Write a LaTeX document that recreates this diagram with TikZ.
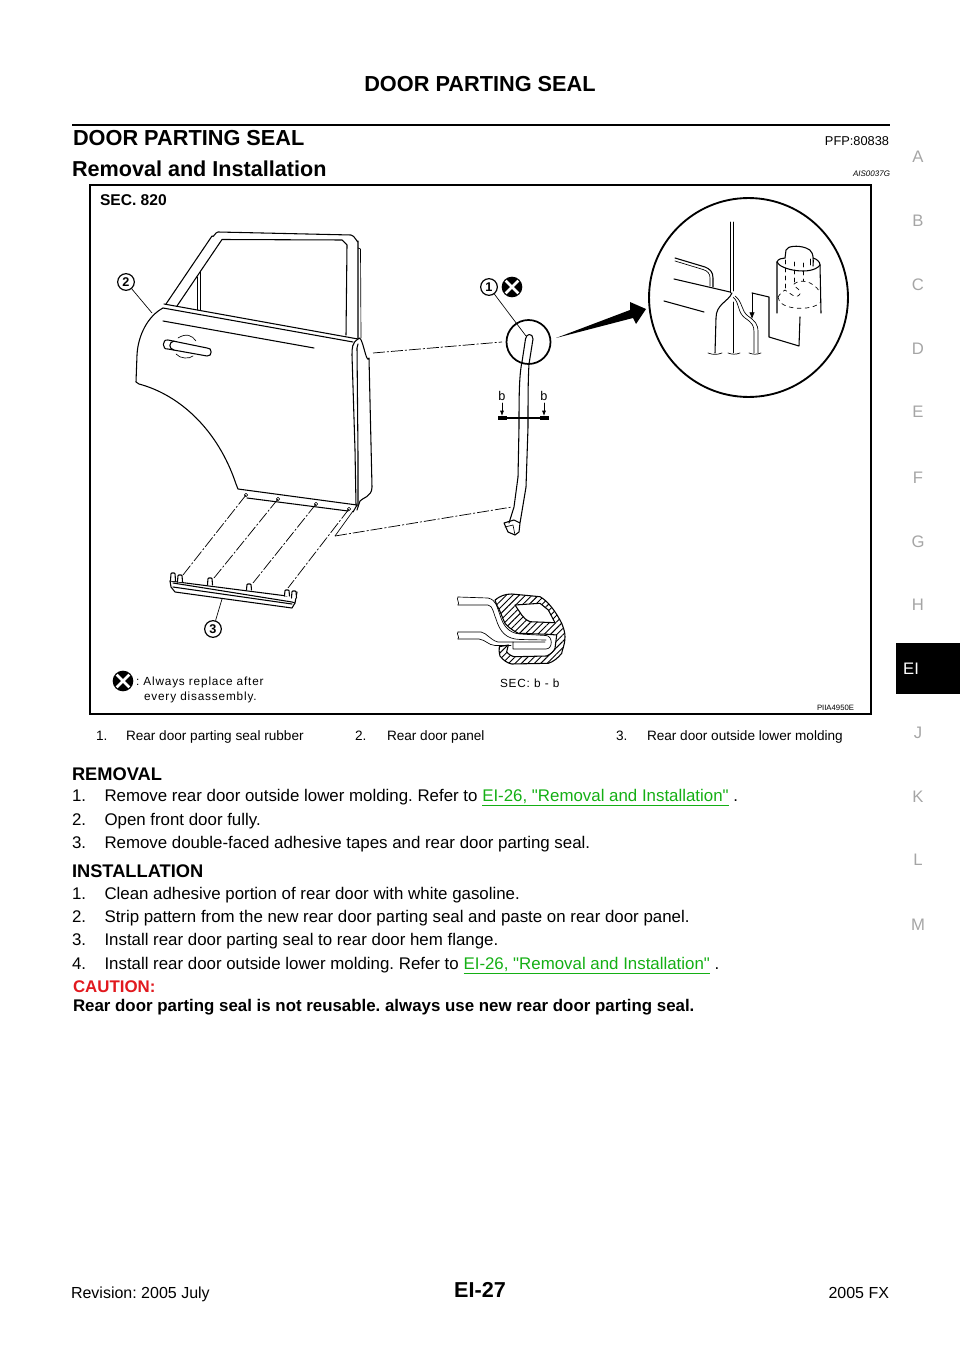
\documentclass[tikz,border=0pt]{standalone}
\usepackage{fontspec}
\setmainfont{Liberation Sans}
\newfontfamily\spaced[LetterSpace=7]{Liberation Sans}
\newfontfamily\plainfam{Liberation Sans}
\newcommand\qt{{\plainfam "}}
\usetikzlibrary{patterns.meta,arrows.meta}
\definecolor{linkgreen}{RGB}{20,175,20}
\definecolor{cautionred}{RGB}{225,25,30}
\definecolor{tabgray}{RGB}{165,165,165}
\tikzset{
  txt/.style={anchor=base west,inner sep=0pt,outer sep=0pt},
  txtr/.style={anchor=base east,inner sep=0pt,outer sep=0pt},
  txtc/.style={anchor=base,inner sep=0pt,outer sep=0pt},
  bodytext/.style={txt,font=\fontsize{12.65}{15}\selectfont},
  headb/.style={txt,font=\fontsize{13.7}{15}\bfseries\selectfont},
  captext/.style={txt,font=\fontsize{10.2}{12}\selectfont},
  tabletter/.style={anchor=center,inner sep=0pt,text=tabgray,font=\fontsize{12.5}{14}\selectfont},
  lab/.style={txt,font=\spaced\fontsize{8.85}{11}\selectfont},
  ln/.style={line width=.8pt,line join=round,line cap=round},
  thinln/.style={line width=.5pt,line join=round,line cap=round},
  dd/.style={line width=.55pt,dash pattern=on 9pt off 1.5pt on 1.5pt off 1.5pt},
  numc/.style={draw,circle,line width=.9pt,inner sep=0pt,minimum size=12.5pt,font=\fontsize{9.5}{10}\bfseries\selectfont},
  xicon/.style={circle,fill=black,inner sep=0pt,minimum size=15.5pt,outer sep=-1pt},
  xcross/.style={white,line width=2.1pt},
  hatch/.style={pattern={Lines[angle=45,distance=3.4pt,line width=.7pt]},draw,line width=.8pt,line join=round},
  whitefill/.style={fill=white,draw,line width=.8pt,line join=round},
}
\frenchspacing
\begin{document}
\begin{tikzpicture}[x=.75pt,y=-.75pt]
\useasboundingbox (0,0) rectangle (960,1358);
% page furniture
\node[txtc,font=\fontsize{16.3}{18}\bfseries\selectfont] (hdr) at (480,92) {DOOR PARTING SEAL};
\coordinate (ruleL) at (72,125); \coordinate (ruleR) at (890,125);
\draw[line width=2.2pt] (ruleL) -- (ruleR);
\node[txt,font=\fontsize{16.3}{18}\bfseries\selectfont] (ttl) at (73,146) {DOOR PARTING SEAL};
\node[txtr,font=\fontsize{9.6}{11}\selectfont] (pfp) at (889,146) {PFP:80838};
\node[txt,font=\fontsize{16.2}{18}\bfseries\selectfont] (sub) at (72,177) {Removal and Installation};
\node[txtr,font=\fontsize{6}{8}\itshape\selectfont] (ais) at (890,177) {AIS0037G};
% side tabs
\foreach \n/\l/\yy in {ta/A/157,tb/B/221,tc/C/285,td/D/349,te/E/412,tf/F/478,tg/G/542,th/H/605,tj/J/733,tk/K/797,tl/L/860,tm/M/925}
  \node[tabletter] (\n) at (918,\yy) {\l};
\fill (896,643) rectangle (960,694);
\node[anchor=center,inner sep=0pt,text=white,font=\fontsize{12.5}{14}\selectfont] (tei) at (911,669) {EI};
% figure frame
\draw[line width=1.4pt] (90,185) rectangle (871,714);
\node[txt,font=\fontsize{11.7}{13}\bfseries\selectfont] (sec) at (100,206) {SEC. 820};
\node[txtr,font=\fontsize{5.8}{7}\selectfont] (pii) at (854,710) {PIIA4950E};
% door: window frame
\draw[ln] (166,304) -- (212,236) to[out=-55,in=180] (218,232) -- (351,235) to[out=0,in=-90] (358,241) -- (358,338);
\draw[ln] (177,306) -- (222,239.5) -- (342,240) -- (347,245) -- (346,335);
\draw[thinln] (358,248) -- (360.5,249) -- (361,338);
\draw[thinln] (197,277) -- (197,310) (200,271) -- (200,310);
% door: belt and body
\draw[ln] (164,304) -- (358,339);
\draw[ln] (163,308) -- (353,342);
\draw[ln] (163,308) .. controls (148,316) and (138,335) .. (137,355) -- (136,382) -- (139,384)
   .. controls (180,395) and (218,430) .. (236,484) -- (238,489) -- (357,505);
\draw[ln] (247,498) -- (348,511);
\draw[ln] (163,321) -- (314,348);
% door: rear edge
\draw[ln] (358,339) to[out=60,in=-110] (369,358) -- (372,487) .. controls (372,497) and (362,498) .. (360,501) -- (357,510);
\draw[ln] (358,339) .. controls (352,343) and (352,348) .. (352,355) -- (355,450) -- (356,505);
\draw[ln] (358,344) -- (357,348) -- (358,455) -- (358,506);
\draw[ln] (357,505) -- (353,512);
% door: handle
\draw[ln] (168,340) -- (207,348) to[out=10,in=-10,looseness=1.8] (207,356) -- (168,349) to[out=190,in=170,looseness=1.8] (168,340);
\draw[ln] (174,341) to[out=190,in=170,looseness=1.6] (174,350);
\draw[thinln] (178,338) .. controls (186,333) and (192,335) .. (196,341);
\draw[thinln] (176,354) .. controls (180,359) and (190,359) .. (193,356);
% molding
\draw[ln] (170,581) -- (287,596);
\draw[ln] (170,581) -- (171,587) -- (175,592) -- (292,608) -- (295,603) -- (297,592);
\draw[ln] (173,583) -- (292,602) -- (295,603);
\draw[ln] (173,587) -- (292,604);
\foreach \cx/\ct/\cb in {173/573/581,180/575/582,210/578/585,249/584/590,287/590/596,294/591/598}{
  \draw[ln,fill=white,rounded corners=.6pt] (\cx-2.5,\cb) -- (\cx-2,\ct) -- (\cx+2,\ct) -- (\cx+2.5,\cb);
}
% mount holes and dash-dot
\coordinate (h1) at (246,495); \coordinate (h2) at (278,499); \coordinate (h3) at (316,504); \coordinate (h4) at (349,509);
\coordinate (m1) at (183,575); \coordinate (m2) at (214,578); \coordinate (m3) at (253,583); \coordinate (m4) at (288,588);
\foreach \h in {h1,h2,h3,h4} \draw[thinln,fill=white] (\h) circle[radius=1.3pt];
\draw[dd] (h1) -- (m1); \draw[dd] (h2) -- (m2); \draw[dd] (h3) -- (m3); \draw[dd] (h4) -- (m4);
\coordinate (k1) at (353,511); \coordinate (k2) at (335,536); \coordinate (k3) at (512,507);
\coordinate (k4) at (373,353); \coordinate (k5) at (502,342);
\draw[thinln] (k1) -- (k2); \draw[dd] (k2) -- (k3); \draw[dd] (k4) -- (k5);
% callouts
\node[numc] (n2) at (126,282) {2};
\coordinate (p2) at (152,313); \draw[thinln] (n2) -- (p2);
\node[numc] (n3) at (213,629) {3};
\coordinate (p3) at (222,599); \draw[thinln] (n3) -- (p3);
\node[numc] (n1) at (489,287) {1};
\coordinate (p1) at (526,336); \draw[thinln] (n1) -- (p1);
\node[xicon] (xa) at (512,287) {};
\draw[xcross] (xa.45) -- (xa.225) (xa.135) -- (xa.315);
\node[xicon] (xb) at (123,681) {};
\draw[xcross] (xb.45) -- (xb.225) (xb.135) -- (xb.315);
\node[lab] (note1) at (136,685) {: Always replace after};
\node[lab] (note2) at (144,700) {every disassembly.};
% seal rubber
\draw[line width=1.3pt] (528.5,342) circle[radius=16.5pt];
\draw[ln] (522,362) -- (525.5,339) .. controls (526,333) and (533,333) .. (533,339) -- (529,364);
\draw[ln] (522,362) .. controls (519,375) and (519,400) .. (519,427) -- (518,477) -- (514,507) -- (509,523);
\draw[ln] (529,364) .. controls (528,380) and (528,400) .. (528,427) -- (526,487) -- (520,523) -- (519,532) -- (515,535) -- (508,532) -- (504,523) -- (514,520) -- (520,523);
\draw[thinln] (505,527) -- (513,525) -- (515,535);
% section mark
\node[txtc,font=\fontsize{9.5}{11}\selectfont] (bl) at (502,400) {b};
\node[txtc,font=\fontsize{9.5}{11}\selectfont] (br) at (544,400) {b};
\coordinate (bl1) at (502,403); \coordinate (bl2) at (502,416); \coordinate (br1) at (544,403); \coordinate (br2) at (544,416);
\draw[thinln,-{Latex[length=4pt,width=3pt]}] (bl1) -- (bl2);
\draw[thinln,-{Latex[length=4pt,width=3pt]}] (br1) -- (br2);
\fill (498,416) rectangle (507,420); \fill (540,416) rectangle (549,420);
\draw[ln] (507,418) -- (540,418);
% big arrow
\fill (556,338) -- (630,310) -- (630,302) -- (646,309) -- (636,324) -- (633,318) -- cycle;
% detail circle
\draw[line width=1.4pt] (748.5,297.5) circle[radius=74.6pt];
\draw[thinln] (730,222) -- (730,292) (733,222) -- (733,291) (733,302) -- (733,353);
\draw[ln] (675,258) -- (705,267) .. controls (710,269) and (713,272) .. (713,278) -- (713,287);
\draw[thinln] (675,261) -- (703,269.5) .. controls (708,271) and (710,274) .. (710,278) -- (710,286);
\draw[ln] (674,279) -- (730,292) -- (731,293);
\draw[ln] (732,293) .. controls (728,302) and (716,304) .. (716,318) -- (715,353);
\draw[ln] (664,301) -- (704,312);
\draw[thinln] (733,297) .. controls (740,303) and (737,312) .. (745,318) .. controls (752,323) and (754,325) .. (754,332) -- (754,353);
\draw[thinln] (735,296) .. controls (743,302) and (741,311) .. (748,316) .. controls (755,321) and (758,324) .. (758,332) -- (758,353);
\draw[thinln,-{Latex[length=5pt,width=4pt]}] (752,293) -- (752,319);
\draw[ln] (752,293) -- (769,297) -- (769,337) -- (799,346) -- (800,317);
\foreach \xa/\xb in {708/722,728/740,749/761}
  \draw[thinln] (\xa,353) to[out=-20,in=200] (\xb,353);
% detail: cylinder
\draw[ln] (777,262) -- (777,313) (820,265) -- (821,313);
\draw[ln] (777,262) .. controls (780,270) and (812,276) .. (820,265);
\draw[ln] (777,262) .. controls (778,259) and (782,258) .. (785,258);
\draw[ln] (813,258) .. controls (817,259) and (820,262) .. (820,265);
\draw[ln] (785,258) -- (786,250) .. controls (787,246) and (798,245) .. (806,248) .. controls (812,250) and (814,254) .. (813,266);
\draw[thinln] (810,259) -- (810,265);
\draw[thinln,dashed] (785,260) -- (785,290) (794,262) -- (794,284) (803,263) -- (803,281);
\draw[thinln,dashed] (778,297) .. controls (782,291) and (784,291) .. (785,290) .. controls (790,293) and (796,300) .. (800,294) .. controls (800,286) and (792,288) .. (794,284) .. controls (800,279) and (812,280) .. (820,292);
\draw[thinln,dashed] (778,297) .. controls (778,310) and (812,312) .. (821,302);
% section b-b: seal
\draw[hatch] (495,600) .. controls (500,596) and (505,594) .. (511.7,594) -- (540,596.7) .. controls (548,601) and (556,612) .. (561.7,623.3) .. controls (564,629) and (565,633) .. (565,636.7) .. controls (565,645) and (562,650) .. (561.7,653.3) .. controls (558,658) and (553,662) .. (548.3,663.3) -- (511.7,664) .. controls (507,663) and (503,660) .. (500,656) .. controls (499,652) and (499,650) .. (499.3,646.7) -- (508.3,645) -- (506.7,651.7) .. controls (508,654) and (512,656.7) .. (515,656.7) -- (546.7,656) .. controls (551,654) and (554,651) .. (555,648.3) -- (556.7,635) -- (548.3,634.3) -- (518.3,633.3) .. controls (512,630) and (508,627) .. (505,623.3) .. controls (502,617) and (500,610) .. (496.7,605) -- cycle;
\draw[whitefill] (515,605) -- (540,603.3) -- (548.3,610) -- (555,622.7) -- (530,621.7) .. controls (526,620) and (524,618) .. (521.7,615) -- cycle;
% section b-b: panels
\draw[thinln] (458,597) -- (488,598) .. controls (497,600) and (497,608) .. (500,615) .. controls (503,625) and (508,633) .. (520,634) -- (546,635.5) .. controls (553,636) and (553,649) .. (546,649) -- (513,649) -- (513,642) -- (545,642);
\draw[thinln] (458,605) -- (488,605) .. controls (493,606) and (493,612) .. (496,619) .. controls (500,632) and (506,639) .. (520,639.5) -- (546,640);
\draw[thinln] (458,632) -- (481,632) .. controls (487,633) and (490,640) .. (498,642) -- (513,642);
\draw[thinln] (458,639) -- (479,639) .. controls (486,640) and (488,645) .. (495,645.5) -- (511,645.5);
\draw[thinln] (458,597) .. controls (456,599) and (460,603) .. (458,605);
\draw[thinln] (458,632) .. controls (456,634) and (460,637) .. (458,639);
\node[lab] (secbb) at (500,687) {SEC: b - b};
% captions
\node[captext] (c1a) at (96,740) {1.};
\node[captext] (c1b) at (126,740) {Rear door parting seal rubber};
\node[captext] (c2a) at (355,740) {2.};
\node[captext] (c2b) at (387,740) {Rear door panel};
\node[captext] (c3a) at (616,740) {3.};
\node[captext] (c3b) at (647,740) {Rear door outside lower molding};
% body
\node[headb] (rem) at (72,780) {REMOVAL};
\node[bodytext] (r1a) at (72,801) {1.};
\node[bodytext] (r1b) at (104.5,801) {Remove rear door outside lower molding. Refer to \textcolor{linkgreen}{\underline{EI-26, \qt Removal and Installation\qt}} .};
\node[bodytext] (r2a) at (72,825) {2.};
\node[bodytext] (r2b) at (104.5,825) {Open front door fully.};
\node[bodytext] (r3a) at (72,848) {3.};
\node[bodytext] (r3b) at (104.5,848) {Remove double-faced adhesive tapes and rear door parting seal.};
\node[headb] (ins) at (72,877) {INSTALLATION};
\node[bodytext] (i1a) at (72,899) {1.};
\node[bodytext] (i1b) at (104.5,899) {Clean adhesive portion of rear door with white gasoline.};
\node[bodytext] (i2a) at (72,922) {2.};
\node[bodytext] (i2b) at (104.5,922) {Strip pattern from the new rear door parting seal and paste on rear door panel.};
\node[bodytext] (i3a) at (72,945) {3.};
\node[bodytext] (i3b) at (104.5,945) {Install rear door parting seal to rear door hem flange.};
\node[bodytext] (i4a) at (72,969) {4.};
\node[bodytext] (i4b) at (104.5,969) {Install rear door outside lower molding. Refer to \textcolor{linkgreen}{\underline{EI-26, \qt Removal and Installation\qt}} .};
\node[txt,text=cautionred,font=\fontsize{12.65}{15}\bfseries\selectfont] (cau) at (73,992) {CAUTION:};
\node[txt,font=\fontsize{12.65}{15}\bfseries\selectfont] (cau2) at (73,1011) {Rear door parting seal is not reusable. always use new rear door parting seal.};
% footer
\node[txt,font=\fontsize{12}{14}\selectfont] (ftl) at (71,1298) {Revision: 2005 July};
\node[txtc,font=\fontsize{16.2}{18}\bfseries\selectfont] (ftc) at (480,1297) {EI-27};
\node[txtr,font=\fontsize{12}{14}\selectfont] (ftr) at (889,1298) {2005 FX};
\end{tikzpicture}
\end{document}
